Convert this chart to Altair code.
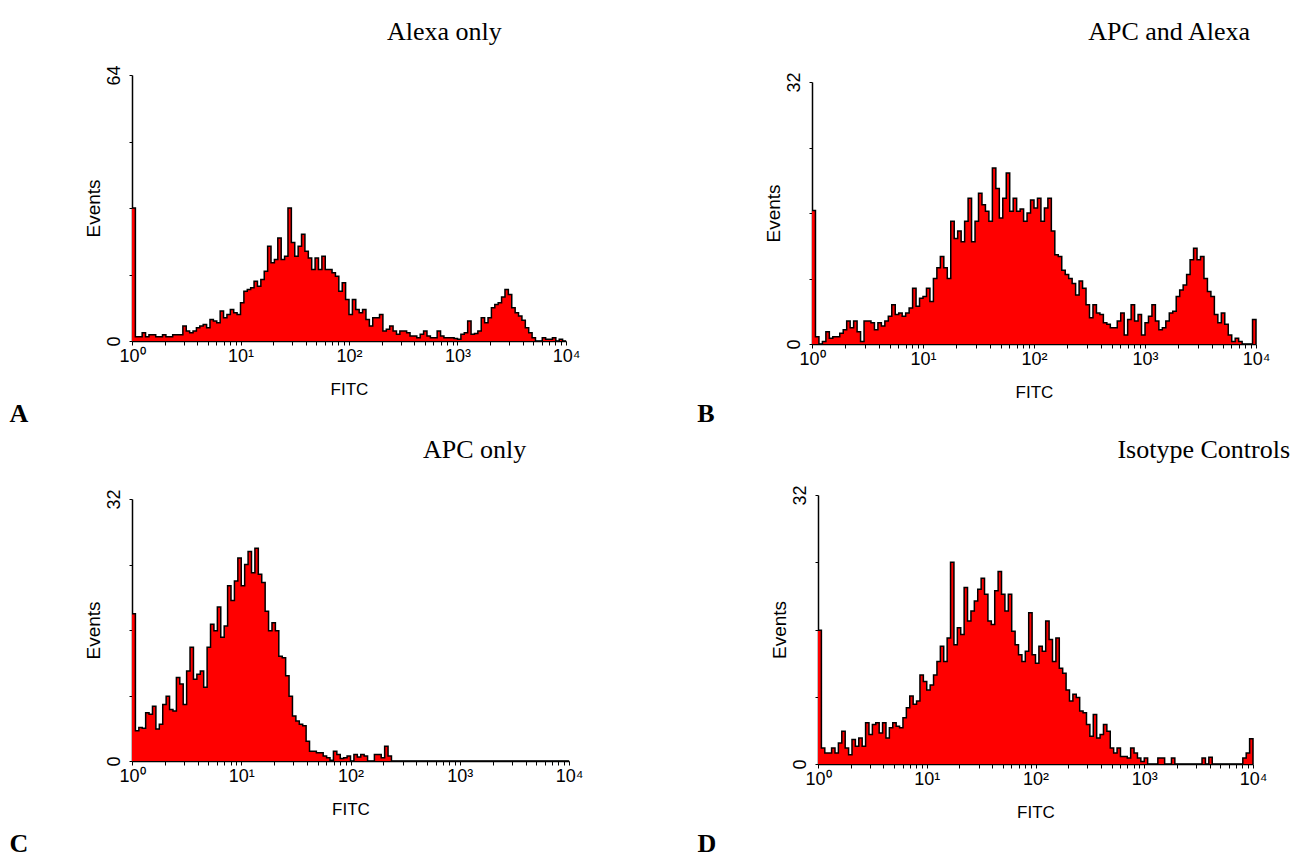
import altair as alt
import pandas as pd

# FITC histograms, 128 log-spaced channels between 10^0 and 10^4 (events per channel)
alexa_only = [
    32, 1, 1, 2, 1, 1.5, 1.5, 1, 1, 1.5, 1, 1, 1.5, 1.5, 1.5,
    3.6, 2.4, 2, 2.4, 3.2, 3.6, 4, 3.2, 5.2, 4.8, 4.4, 7.2, 5.6, 6.4, 7.6, 6.8,
    6.4, 9.2, 12, 12.4, 12.8, 14.4, 13.2, 14.8, 16.8, 22.8, 18.8, 19.6, 24.8, 19.6, 20.4,
    32, 23.7, 20.4, 22.8, 25.7, 21.6, 20, 17.2, 20, 17.2, 20.4, 17.2, 17.2, 16.4, 15.6, 12,
    14, 10, 6.4, 10, 7.6, 6.8, 7.6, 5.2, 3.6, 5.6, 5.6, 6.4, 2.4, 2.8, 3.6, 2.4,
    1.6, 2.4, 2.4, 2, 1.2, 1.2, 0.8, 1.6, 2.4, 1.2, 0.8, 0.8, 2.4, 1.2, 0.8,
    0.8, 0.8, 0.6, 0.4, 1.6, 2, 4.8, 1.6, 1.8, 2.4, 5.6, 4.4, 5.6, 8, 8.8, 9.2,
    10.6, 12.4, 11.2, 8, 6.8, 6, 5, 3.2, 2, 0.8, 0, 0, 0.8, 0.4, 0.4, 0.8,
    0, 0.4, 0,
]
apc_and_alexa = [
    16.3, 0.9, 0, 0.3, 1.5, 0.7, 0.9, 0.9, 1.3, 1.75, 2.8, 2, 2.8, 1.5, 0.3,
    2.8, 2.8, 2.6, 1.75, 2.6, 2.2, 2.8, 3.4, 4.8, 3.6, 3.8, 3.4, 3.8, 4.4, 6.8,
    4.6, 5.6, 5.8, 6.8, 5.2, 8, 9.3, 10.7, 9.3, 8, 15, 12.9, 13.8, 12.5, 15, 17.8,
    12.5, 15, 18.4, 17, 16.2, 15, 21.5, 19, 15.4, 17.8, 20.9, 16.2, 17.8, 16.2, 16.5, 15,
    16, 17.6, 16.6, 17.8, 15, 16.6, 17.8, 13.8, 10.9, 10.7, 9, 8.5, 8, 7.4, 6, 7.7,
    6.8, 4.8, 3.2, 4.8, 3.8, 3.6, 2.6, 2.4, 2, 2, 2.8, 3.8, 1.1, 3, 4.8, 2.8, 3.6,
    1.1, 2.6, 3.4, 4.8, 2.8, 1.75, 2, 2.8, 3.8, 4, 5.8, 6.6, 7.2, 8.5, 10.3,
    11.7, 10.3, 10.7, 8, 6.4, 5.8, 3.6, 2.6, 3.8, 2.4, 1.1, 0.3, 0.7, 0.3, 0,
    0, 0, 3,
]
apc_only = [
    18, 3.7, 4.1, 4, 5.9, 5.7, 6.7, 3.9, 4.5, 6.9, 7.9, 6.3, 6.1, 10.2, 9.4, 6.9,
    11, 13.9, 10, 10.6, 11, 9, 13.9, 16.7, 15.9, 18.8, 15.1, 16.5, 21.4, 19.6, 22, 24.8,
    21.4, 24, 25.6, 23, 26, 22.8, 21.8, 18.3, 15.9, 16.9, 15.9, 12.8, 12.6, 10.4, 7.9, 5.5,
    4.9, 4.5, 4.3, 2.4, 1.2, 1.2, 1, 1, 0.6, 0.4, 0.1, 1.2, 0.8, 0.3, 0.4, 0.6,
    0, 0.8, 0.5, 0.8, 0.6, 0, 0, 0.8, 0.8, 0.4, 1.8, 0.6, 0, 0, 0, 0,
    0, 0, 0, 0, 0, 0, 0, 0, 0, 0, 0, 0, 0, 0, 0, 0,
    0, 0, 0, 0, 0, 0, 0, 0, 0, 0, 0, 0, 0, 0, 0, 0,
    0, 0, 0, 0, 0, 0, 0, 0, 0, 0, 0, 0, 0, 0, 0, 0,
]
isotype_controls = [
    15.9, 1.9, 1.3, 1.3, 1.9, 1.3, 2.5, 3.9, 1.9, 1.1, 2.9, 2.1, 3.1, 2.1, 4.9, 3.5,
    4.7, 4.9, 3.7, 4.9, 3.1, 4.3, 4.9, 4.5, 4.3, 5.5, 6.7, 8.1, 7.1, 7.5, 10.6, 9.8,
    8.8, 9.4, 10.6, 12.2, 14, 12.2, 15, 24, 14.2, 16.2, 15.4, 21, 17, 18.2, 19.4, 20.8,
    22.1, 20.2, 17, 16.6, 20.6, 22.9, 20.2, 18.2, 20.2, 15.8, 14.2, 13, 12.2, 13.4, 18, 13,
    12, 14, 13.4, 17, 14.8, 12.2, 15, 11.4, 10.8, 8.8, 7.5, 8.3, 7.9, 6.3, 6.1, 4.7,
    3.3, 5.9, 3.1, 3.5, 4.7, 3.9, 1.9, 1.3, 1.9, 0.9, 0.9, 0.7, 1.9, 1.3, 0.7, 0.3,
    0.7, 0, 0, 0, 0.7, 0.7, 0, 0, 0.7, 0, 0, 0, 0, 0, 0, 0,
    0, 0.7, 0, 0.8, 0, 0, 0, 0, 0, 0, 0, 0, 0, 0.7, 1.3, 3,
]

panel_titles = ["Alexa only", "APC and Alexa", "APC only", "Isotype Controls"]
panel_letters = ["A", "B", "C", "D"]
y_maxima = [64, 32, 32, 32]
x_label = "FITC"
y_label = "Events"

decade_labels = {1: "10⁰", 10: "10¹", 100: "10²", 1000: "10³", 10000: "10⁴"}
minor_ticks = [m * 10 ** d for d in range(4) for m in range(1, 10)] + [10000]

SANS = "Liberation Sans"
SERIF = "Liberation Serif"


def histogram_frame(counts):
    n = len(counts)
    edges = [10 ** (4 * i / n) for i in range(n + 1)]
    return pd.DataFrame({"fitc": edges, "events": list(counts) + [0]})


label_expr = " : ".join(
    f"datum.value == {v} ? '{t}'" for v, t in decade_labels.items()
) + " : ''"


def panel(counts, title, letter, ymax, w, view_h, plot_top, title_anchor, title_dx,
          title_offset, letter_dx, letter_dy, letter_baseline):
    df = histogram_frame(counts)
    y_ticks = [ymax * i / 4 for i in range(5)]
    x_enc = alt.X(
        "fitc:Q",
        scale=alt.Scale(type="log", domain=[1, 10000], nice=False),
        axis=alt.Axis(
            values=minor_ticks, labelExpr=label_expr, title=x_label, grid=False,
            tickSize=4, labelPadding=2, labelFontSize=18, labelFont=SANS,
            labelOverlap=False, labelFlush=False, titleFont=SANS, titleFontSize=17,
            titleFontWeight="normal", titlePadding=16, domainWidth=1.5,
            domainColor="black", tickColor="black", labelColor="black", titleColor="black",
        ),
    )
    y_enc = alt.Y(
        "events:Q",
        scale=alt.Scale(domain=[0, ymax], range=[view_h, plot_top], nice=False, zero=True),
        axis=alt.Axis(
            values=y_ticks, grid=False,
            labelExpr=f"datum.value == 0 || datum.value == {ymax} ? datum.label : ''",
            title=y_label, tickSize=3, labelAngle=-90, labelAlign="center",
            labelBaseline="bottom", labelPadding=6, labelFontSize=18, labelFont=SANS,
            labelOverlap=False, labelFlush=False, titleFont=SANS, titleFontSize=19,
            titleFontWeight="normal", titlePadding=2, domainWidth=1.5,
            domainColor="black", tickColor="black", labelColor="black", titleColor="black",
        ),
    )
    base = alt.Chart(df)
    area = base.mark_area(interpolate="step-after", color="#ff0000").encode(x=x_enc, y=y_enc)
    outline = base.mark_line(
        interpolate="step-after", color="black", strokeWidth=1.5
    ).encode(x=x_enc, y=y_enc)
    tag = alt.Chart(pd.DataFrame({"letter": [letter]})).mark_text(
        font=SERIF, fontSize=26, fontWeight="bold", align="center",
        baseline=letter_baseline, color="black",
    ).encode(text="letter:N", x=alt.value(letter_dx), y=alt.value(letter_dy))
    return alt.layer(area, outline, tag).properties(
        width=w, height=view_h,
        title=alt.TitleParams(
            text=title, font=SERIF, fontSize=26, fontWeight="normal", color="black",
            anchor=title_anchor, frame="group", dx=title_dx, offset=title_offset,
        ),
    )


# row 1 views start at y=74, row 2 views at y=494
pA = panel(alexa_only, panel_titles[0], panel_letters[0], y_maxima[0], 434, 266, 0,
           "start", 255, 19.5, -113, 339, "middle")
pB = panel(apc_and_alexa, panel_titles[1], panel_letters[1], y_maxima[1], 444, 269, 7,
           "end", -6, 26.5, -106, 339, "middle")
pC = panel(apc_only, panel_titles[2], panel_letters[2], y_maxima[2], 437, 266, 4,
           "start", 291, 25.5, -113, 362, "bottom")
pD = panel(isotype_controls, panel_titles[3], panel_letters[3], y_maxima[3], 435, 269, 0,
           "end", 37, 21.5, -111, 362, "bottom")

chart = alt.vconcat(
    alt.hconcat(pA, pB, spacing=246, bounds="flush"),
    alt.hconcat(pC, pD, spacing=249, bounds="flush"),
    spacing=10,
).properties(
    padding={"left": 9, "top": 19, "right": 0, "bottom": 0},
    background="white",
).configure_view(strokeWidth=0)

chart.save("out.html", embed_options={"renderer": "svg", "actions": False})
